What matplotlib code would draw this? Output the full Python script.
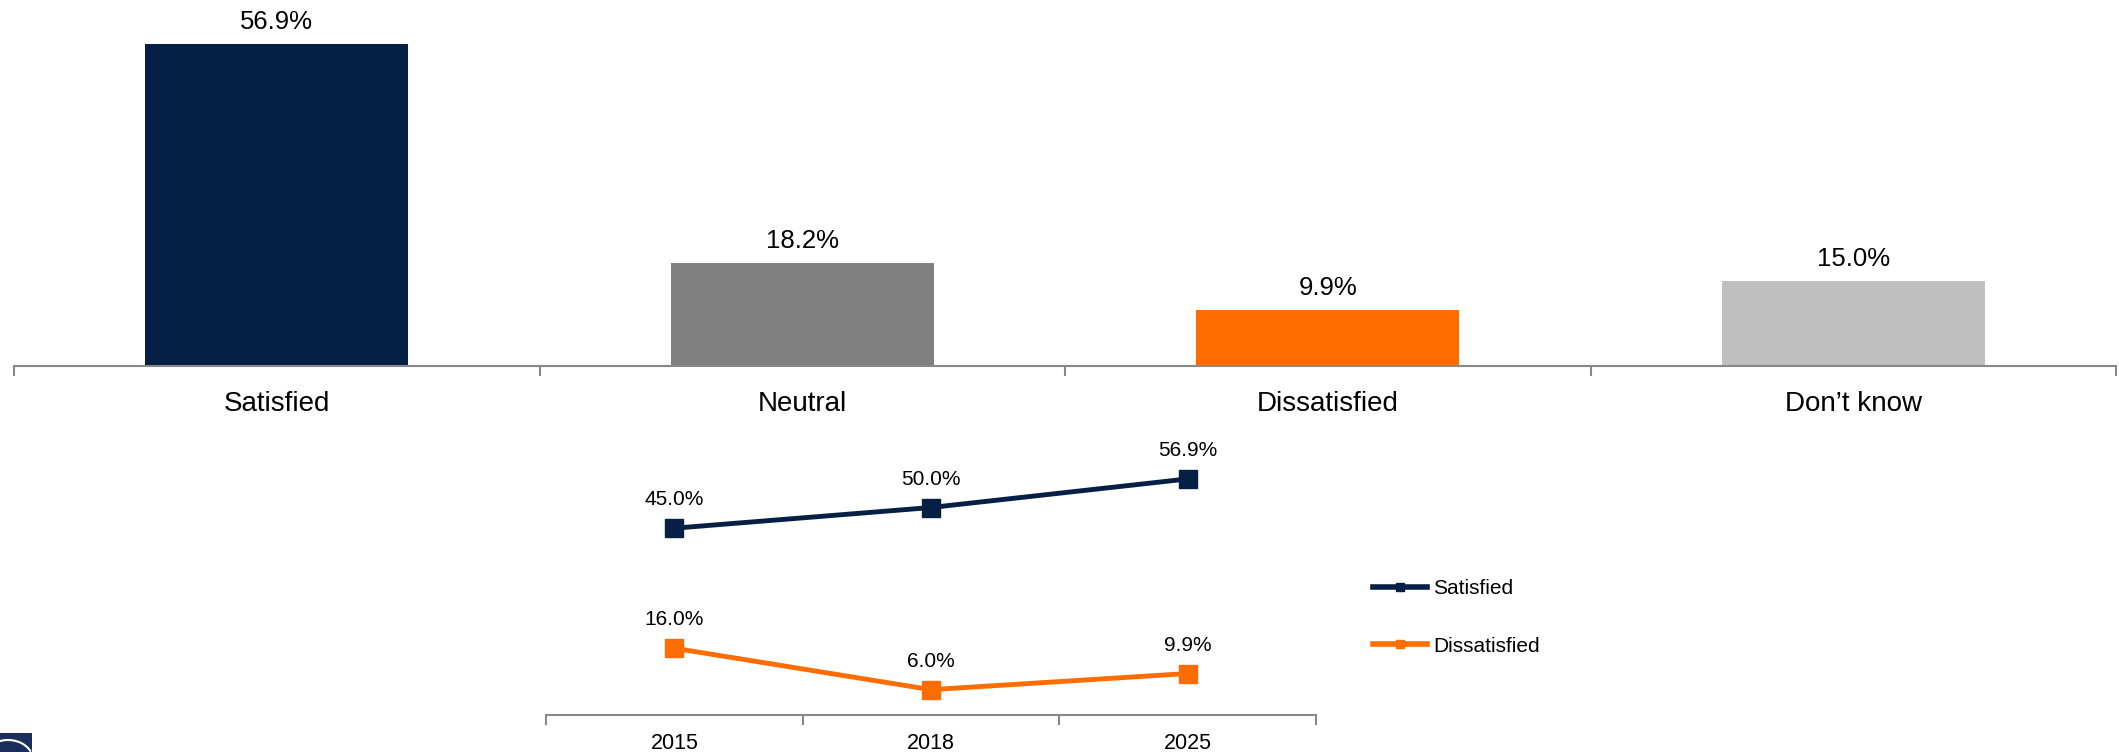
import numpy as np
import matplotlib.pyplot as plt
from matplotlib.patches import Rectangle, Arc

plt.rcParams.update({
    'font.family': ['Liberation Sans', 'DejaVu Sans'],
    'savefig.facecolor': 'white',
})

# overall satisfaction (current survey)
categories = ['Satisfied', 'Neutral', 'Dissatisfied', 'Don\u2019t know']
shares = [56.9, 18.2, 9.9, 15.0]

# trend over the survey waves
years = ['2015', '2018', '2025']
satisfied_trend = [45.0, 50.0, 56.9]
dissatisfied_trend = [16.0, 6.0, 9.9]

NAVY = '#061f45'
ORANGE = '#ff6d00'
bar_colors = [NAVY, '#808080', ORANGE, '#bfbfbf']
AXIS_GREY = '#888888'

W, H = 2119, 752
fig = plt.figure(figsize=(W / 100, H / 100), dpi=100)


def px_axes(left, top, right, bottom):
    # axes placed by pixel edges measured from the top-left corner
    return fig.add_axes([left / W, 1 - bottom / H, (right - left) / W, (bottom - top) / H])


def style_axis(ax, n):
    for s in ['top', 'left', 'right']:
        ax.spines[s].set_visible(False)
    ax.spines['bottom'].set_color(AXIS_GREY)
    ax.spines['bottom'].set_linewidth(1.5)
    ax.set_yticks([])
    ax.set_xlim(-0.5, n - 0.5)
    ax.set_xticks(np.arange(n), [''] * n)
    ax.set_xticks(np.arange(n + 1) - 0.5, minor=True)
    ax.tick_params(axis='x', which='major', length=0)
    ax.tick_params(axis='x', which='minor', direction='out', length=7.2,
                   width=1.5, color=AXIS_GREY)


#%% bar chart
ax = px_axes(14, 0, 2116, 366)
x = np.arange(len(categories))
ax.bar(x, shares, width=0.5, color=bar_colors)
ax.set_ylim(0, 64.6)
style_axis(ax, len(categories))

for xi, v in zip(x, shares):
    ax.annotate(f'{v:.1f}%', (xi, v), xytext=(0, 10.8), textcoords='offset points',
                ha='center', va='baseline', fontsize=18.5)
for xi, c in zip(x, categories):
    ax.annotate(c, (xi, 0), xycoords=('data', 'axes fraction'), xytext=(0, -32.2),
                textcoords='offset points', ha='center', va='baseline', fontsize=20)

#%% trend lines
ax2 = px_axes(546, 714.5 - 248.4, 1316, 714.5)
xt = np.arange(len(years))
ax2.plot(xt, satisfied_trend, color=NAVY, lw=3.5, marker='s', ms=13.5, label='Satisfied')
ax2.plot(xt, dissatisfied_trend, color=ORANGE, lw=3.5, marker='s', ms=13.5, label='Dissatisfied')
ax2.set_ylim(0, 60)
style_axis(ax2, len(years))

for series in [satisfied_trend, dissatisfied_trend]:
    for xi, v in zip(xt, series):
        ax2.annotate(f'{v:.1f}%', (xi, v), xytext=(0, 16.4), textcoords='offset points',
                     ha='center', va='baseline', fontsize=15)
for xi, yr in zip(xt, years):
    ax2.annotate(yr, (xi, 0), xycoords=('data', 'axes fraction'), xytext=(0, -24.8),
                 textcoords='offset points', ha='center', va='baseline', fontsize=15.5)

leg = ax2.legend(loc='upper left', bbox_to_anchor=(1373 / W, 1 - 579 / H),
                 bbox_transform=fig.transFigure, frameon=False, fontsize=15,
                 handlelength=2.6, handletextpad=0.3, labelspacing=1.86,
                 borderpad=0, borderaxespad=0)
for ln in leg.get_lines():
    ln.set_markersize(6)
    ln.set_linewidth(4)

#%% corner of the logo
fig.patches.append(Rectangle((0, 0), 0.32, 0.19, transform=fig.dpi_scale_trans,
                             facecolor='#1c2e5c', edgecolor='none'))
fig.patches.append(Arc((0.08, -0.08), 0.5, 0.4, theta1=20, theta2=170,
                       transform=fig.dpi_scale_trans, color='white', lw=1.5))

fig.savefig('out.png', dpi=100)
